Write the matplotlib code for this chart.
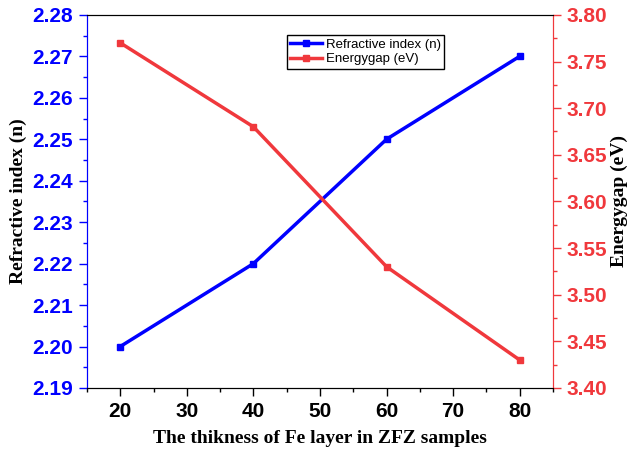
import matplotlib
matplotlib.use('Agg')
from matplotlib import pyplot as plt
from matplotlib.ticker import MultipleLocator, AutoMinorLocator

thickness = [20, 40, 60, 80]
refractive_index = [2.20, 2.22, 2.25, 2.27]
energy_gap = [3.77, 3.68, 3.53, 3.43]

blue = '#0000ff'
red = '#f0383c'

fig = plt.figure(figsize=(6.28, 4.55), dpi=100)
ax = fig.add_axes([0.1385, 0.1473, 0.742, 0.82])
ax2 = ax.twinx()

l1, = ax.plot(thickness, refractive_index, color=blue, lw=2.5, marker='s', ms=5,
              label='Refractive index (n)')
l2, = ax2.plot(thickness, energy_gap, color=red, lw=2.5, marker='s', ms=5,
               label='Energygap (eV)')

ax.set_xlim(15, 85)
ax.set_ylim(2.19, 2.28)
ax2.set_ylim(3.40, 3.80)
ax.xaxis.set_major_locator(MultipleLocator(10))
ax.xaxis.set_minor_locator(AutoMinorLocator(2))
ax.yaxis.set_major_locator(MultipleLocator(0.01))
ax.yaxis.set_minor_locator(AutoMinorLocator(2))
ax2.yaxis.set_major_locator(MultipleLocator(0.05))
ax2.yaxis.set_minor_locator(AutoMinorLocator(2))
ax.yaxis.set_major_formatter(plt.FormatStrFormatter('%.2f'))
ax2.yaxis.set_major_formatter(plt.FormatStrFormatter('%.2f'))

for a in (ax, ax2):
    a.tick_params(which='major', direction='out', length=6, width=1, pad=4)
    a.tick_params(which='minor', direction='out', length=3, width=1)
ax.tick_params(axis='y', which='both', colors=blue)
ax2.tick_params(axis='y', which='both', colors=red)
for lab in ax.get_xticklabels() + ax.get_yticklabels() + ax2.get_yticklabels():
    lab.set_family('Liberation Sans')
    lab.set_fontsize(15)
    lab.set_fontweight('bold')

ax.spines['left'].set_color(blue)
ax2.spines['left'].set_color(blue)
ax2.spines['right'].set_color(red)
ax.spines['right'].set_color(red)

labfont = dict(family='Liberation Serif', weight='bold', size=14)
ax.set_xlabel('The thikness of Fe layer in ZFZ samples', fontdict=labfont)
ax.set_ylabel('Refractive index (n)', fontdict=labfont)
ax2.set_ylabel('Energygap (eV)', fontdict=labfont)
ax.xaxis.set_label_coords(0.5, -0.113)
ax.yaxis.set_label_coords(-0.128, 0.5)
ax2.yaxis.set_label_coords(1.123, 0.5)

leg = ax.legend([l1, l2], ['Refractive index (n)', 'Energygap (eV)'],
                loc='upper left', bbox_to_anchor=(0.429, 0.946), borderaxespad=0,
                fancybox=False, edgecolor='black', framealpha=1, borderpad=0.25,
                handlelength=2.4, handletextpad=0.3, labelspacing=0.2,
                prop=dict(family='Liberation Sans', size=9.5))
leg.get_frame().set_linewidth(1)

fig.savefig('out.png', dpi=100)
